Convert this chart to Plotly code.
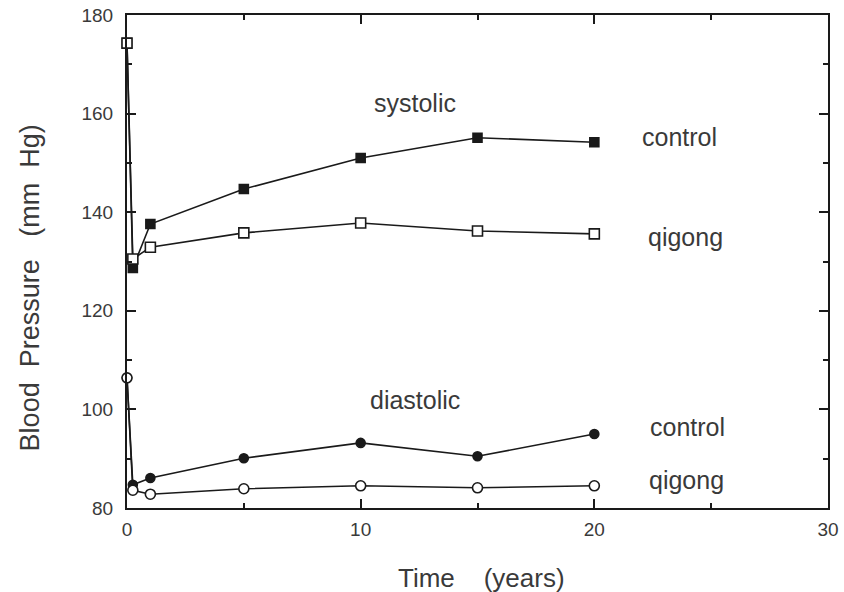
import plotly.graph_objects as go

years = [0, 0.25, 1, 5, 10, 15, 20]
sys_control = [174.3, 128.7, 137.6, 144.7, 151.0, 155.1, 154.2]
sys_qigong = [174.3, 130.5, 132.9, 135.8, 137.8, 136.2, 135.6]
dia_control = [106.4, 84.7, 86.1, 90.1, 93.2, 90.5, 95.0]
dia_qigong = [106.4, 83.6, 82.8, 83.9, 84.5, 84.1, 84.5]

x_ticks = [0, 10, 20, 30]
x_minor = [5, 15, 25]
y_ticks = [80, 100, 120, 140, 160, 180]
y_minor = [90, 110, 130, 150, 170]

labels = [
    ("systolic", 10.5, 162.2),
    ("control", 21.95, 155.3),
    ("qigong", 22.2, 134.9),
    ("diastolic", 10.3, 101.9),
    ("control", 22.3, 96.4),
    ("qigong", 22.25, 85.6),
]

ink = "#1a1a1a"
txt_col = "#3a3a3a"
font_fam = "Liberation Sans, Arial, sans-serif"
fig = go.Figure()

def add(y, symbol, filled, size):
    fig.add_trace(go.Scatter(
        x=years, y=y, mode="lines+markers",
        line=dict(color=ink, width=1.6),
        marker=dict(symbol=symbol, size=size,
                    color=ink if filled else "white",
                    line=dict(color=ink, width=1.6)),
        showlegend=False, cliponaxis=False))

add(sys_control, "square", True, 9)
add(sys_qigong, "square", False, 10)
add(dia_control, "circle", True, 9)
add(dia_qigong, "circle", False, 10)

for txt, x, y in labels:
    fig.add_annotation(x=x, y=y, text=txt, showarrow=False, xanchor="left",
                       yanchor="middle",
                       font=dict(size=25, color=txt_col, family=font_fam))

fig.add_annotation(xref="paper", yref="paper", x=0.506, y=-0.142,
                   text="Time&nbsp;&nbsp;&nbsp;&nbsp;(years)", showarrow=False,
                   xanchor="center", yanchor="middle",
                   font=dict(size=26, color=txt_col, family=font_fam))
fig.add_annotation(xref="paper", yref="paper", x=-0.138, y=0.446,
                   text="Blood&nbsp;&nbsp;Pressure&nbsp;&nbsp;&nbsp;(mm&nbsp;&nbsp;Hg)", showarrow=False,
                   textangle=-90, xanchor="center", yanchor="middle",
                   font=dict(size=27, color=txt_col, family=font_fam))

axis_common = dict(showgrid=False, zeroline=False, showline=True, linecolor=ink,
                   linewidth=2, mirror="ticks", ticks="inside", tickcolor=ink,
                   ticklen=9, tickwidth=1.5, automargin=False,
                   tickfont=dict(size=19, color=txt_col, family=font_fam))

fig.update_xaxes(range=[0, 30], tickvals=x_ticks, ticklabelstandoff=3,
                 minor=dict(tickvals=x_minor, ticks="inside", ticklen=5, tickcolor=ink),
                 **axis_common)
fig.update_yaxes(range=[80, 180], tickvals=y_ticks, ticklabelstandoff=8,
                 minor=dict(tickvals=y_minor, ticks="inside", ticklen=5, tickcolor=ink),
                 **axis_common)

fig.update_layout(width=844, height=592, margin=dict(l=127, r=16, t=15, b=84),
                  plot_bgcolor="white", paper_bgcolor="white")

# remove the default 8px page margin so the figure fills the window exactly
fig.write_html("out.html", config={"displayModeBar": False},
               post_script="document.body.style.margin='0px';")
